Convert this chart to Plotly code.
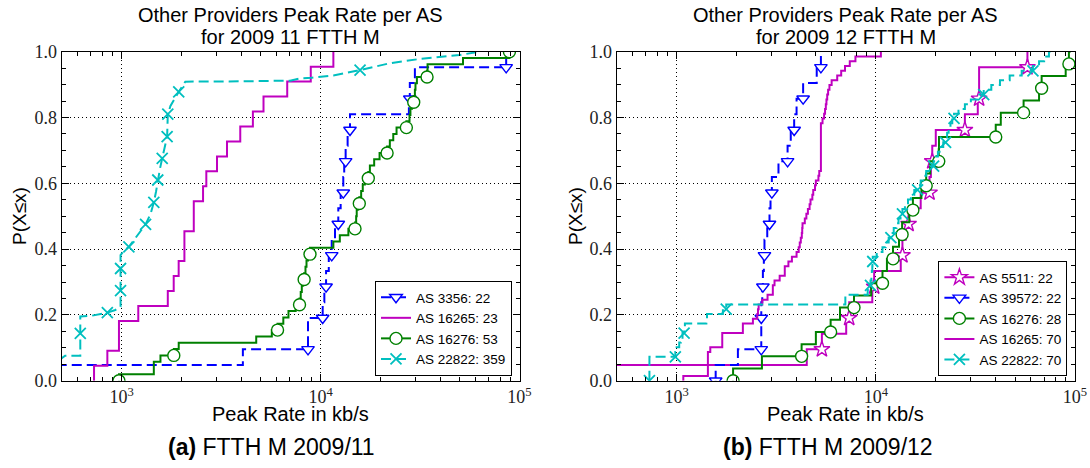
import numpy as np
import plotly.graph_objects as go

# ---------------- axis labels / ticks ----------------
x_ticks = [1e3, 1e4, 1e5]
x_tick_labels = ["10<sup>3</sup>", "10<sup>4</sup>", "10<sup>5</sup>"]
y_ticks = [0.0, 0.2, 0.4, 0.6, 0.8, 1.0]
y_tick_labels = ["0.0", "0.2", "0.4", "0.6", "0.8", "1.0"]
x_minor = [500, 600, 700, 800, 900, 2000, 3000, 4000, 5000, 6000, 7000, 8000, 9000,
           20000, 30000, 40000, 50000, 60000, 70000, 80000, 90000]

panel_titles = ["Other Providers Peak Rate per AS", "for 2009 11 FTTH M",
                "Other Providers Peak Rate per AS", "for 2009 12 FTTH M"]
captions = ["<b>(a)</b> FTTH M 2009/11", "<b>(b)</b> FTTH M 2009/12"]
x_title = "Peak Rate in kb/s"
y_title = "P(X≤x)"

# ---------------- panel (a): sorted peak rates per AS (kb/s) ----------------
a_as3356 = [400, 4070, 8650, 8650, 10250, 10450, 10660, 11000, 11380, 11820, 12280,
            12620, 13010, 13150, 13370, 13680, 14060, 27800, 28100, 29800, 85700, 85700]
a_as16265 = [727, 848, 970, 970, 1213, 1707, 1828, 1936, 2069, 2069, 2306, 2306,
             2567, 2666, 3018, 3388, 3949, 4570, 5168, 6800, 8930, 11600, 11600]
a_as16276 = [970, 1452, 1452, 1568, 1830, 1937, 4750, 5690, 6080, 6500, 6900, 7500,
             7840, 7950, 8050, 8150, 8270, 8400, 8500, 8650, 8850, 11600, 12500, 13800,
             14900, 15100, 15200, 15400, 15660, 16000, 16300, 16700, 17380, 17700, 18600,
             19800, 21600, 22300, 23200, 24100, 27000, 28000, 28300, 28800, 29400, 29800,
             30000, 30500, 34300, 34500, 52000, 89000, 89000]
# AS 22822 has 359 samples: its CDF is given as curve vertices
a_as22822_x = [480, 520, 620, 620, 700, 848, 930, 988, 988, 1020, 1088, 1200, 1320,
               1400, 1452, 1490, 1520, 1560, 1600, 1650, 1694, 1707, 1760, 1937, 2090,
               4000, 7030, 7890, 9030, 11600, 15800, 22300, 31500, 50000, 63000]
a_as22822_p = [0.060, 0.076, 0.076, 0.195, 0.197, 0.207, 0.215, 0.225, 0.382, 0.392,
               0.407, 0.440, 0.475, 0.508, 0.542, 0.575, 0.610, 0.645, 0.676, 0.710,
               0.742, 0.810, 0.835, 0.878, 0.909, 0.910, 0.912, 0.919, 0.921, 0.928,
               0.944, 0.965, 0.978, 0.990, 1.000]
a_as22822_mark_x = [620, 848, 988, 988, 1088, 1320, 1452, 1520, 1600, 1694, 1707, 1937, 15800]
a_as22822_mark_p = [0.144, 0.207, 0.274, 0.341, 0.407, 0.475, 0.542, 0.610, 0.676,
                    0.742, 0.810, 0.878, 0.944]

# ---------------- panel (b) ----------------
b_as5511 = [400, 4500, 5360, 7100, 7350, 9600, 9810, 13340, 13600, 14140, 14600, 16800,
            18600, 18900, 19200, 20000, 28000, 32500, 33000, 33000, 57700, 57700]
b_as39572 = [1570, 2030, 2660, 2660, 2660, 2690, 2710, 2740, 2760, 2850, 2925, 2960,
             3006, 3245, 3605, 3740, 3890, 4000, 4315, 5050, 5300, 5300]
b_as16276 = [1920, 2680, 4240, 5000, 5930, 6610, 7770, 9480, 10800, 11370, 12200, 13070,
             13550, 14720, 15350, 16940, 17900, 18740, 20700, 20750, 40000, 42400, 55200,
             66000, 68000, 89800, 93200, 95000]
b_as16265 = [1080, 1435, 1435, 1435, 1435, 1435, 1475, 1694, 1694, 1694, 2150, 2150,
             2415, 2540, 2560, 2580, 2690, 2860, 3040, 3040, 3100, 3290, 3490, 3490,
             3640, 3790, 4000, 4100, 4150, 4200, 4250, 4270, 4285, 4400, 4480, 4560,
             4650, 4700, 4800, 4850, 4950, 5000, 5150, 5200, 5300, 5300, 5300, 5300,
             5300, 5300, 5300, 5300, 5300, 5300, 5400, 5500, 5560, 5610, 5650, 5700,
             5760, 5850, 6000, 6400, 6700, 7000, 7400, 7900, 10600, 10600]
b_as22822 = [730, 730, 730, 730, 730, 985, 1000, 1030, 1050, 1070, 1090, 1100, 1410,
             1420, 1707, 1774, 7030, 7030, 9100, 9300, 9400, 9500, 9550, 9600, 9620,
             9650, 10100, 10800, 11200, 11600, 11900, 12300, 12700, 13000, 13300, 13600,
             14000, 14500, 15000, 15600, 16200, 16800, 17300, 17900, 18700, 19500, 20000,
             20500, 21200, 21800, 22400, 22800, 23200, 23700, 24200, 24700, 26000, 28000,
             30000, 32500, 34800, 38000, 42000, 47000, 54000, 61500, 66000, 70000, 74000,
             78000]

# ---------------- styles ----------------
MAG, BLU, GRN, CYN = "#BF00BF", "#0000FF", "#008000", "#00BFBF"
DASH = "10px,5px"

panels = [
    dict(x="x", y="y", legend="legend", series=[
        dict(name="AS 3356: 22", vals=a_as3356, color=BLU, dash=DASH, sym="triangle-down", every=2),
        dict(name="AS 16265: 23", vals=a_as16265, color=MAG, dash="solid", sym=None, every=0),
        dict(name="AS 16276: 53", vals=a_as16276, color=GRN, dash="solid", sym="circle", every=4),
        dict(name="AS 22822: 359", curve=(a_as22822_x, a_as22822_p),
             marks=(a_as22822_mark_x, a_as22822_mark_p), color=CYN, dash=DASH, sym="x-thin"),
    ]),
    dict(x="x2", y="y2", legend="legend2", series=[
        dict(name="AS 5511: 22", vals=b_as5511, color=MAG, dash="solid", sym="star", every=2),
        dict(name="AS 39572: 22", vals=b_as39572, color=BLU, dash=DASH, sym="triangle-down", every=2),
        dict(name="AS 16276: 28", vals=b_as16276, color=GRN, dash="solid", sym="circle", every=2),
        dict(name="AS 16265: 70", vals=b_as16265, color=MAG, dash="solid", sym=None, every=0),
        dict(name="AS 22822: 70", vals=b_as22822, color=CYN, dash=DASH, sym="x-thin", every=5),
    ]),
]


def marker_style(sym, color):
    if sym is None:
        return None
    if sym == "x-thin":
        return dict(symbol="x-thin", size=11, color=color, line=dict(color=color, width=1.8))
    size = {"circle": 12, "triangle-down": 11, "star": 12}[sym]
    return dict(symbol=sym, size=size, color="white", line=dict(color=color, width=1.4))


fig = go.Figure()
for p in panels:
    for s in p["series"]:
        line = dict(color=s["color"], width=2, dash=s["dash"])
        if "vals" in s:
            xs = np.array(s["vals"], dtype=float)
            ps = np.arange(len(xs)) / (len(xs) - 1)
            shape = "vh"
            if s["every"]:
                mx, mp = xs[::s["every"]], ps[::s["every"]]
            else:
                mx, mp = None, None
        else:
            xs, ps = s["curve"]
            shape = "linear"
            mx, mp = s["marks"]
        fig.add_trace(go.Scatter(x=xs, y=ps, mode="lines", line=dict(line, shape=shape),
                                 xaxis=p["x"], yaxis=p["y"], showlegend=False,
                                 hoverinfo="skip"))
        ms = marker_style(s["sym"], s["color"])
        if ms is not None:
            fig.add_trace(go.Scatter(x=mx, y=mp, mode="markers", marker=ms,
                                     xaxis=p["x"], yaxis=p["y"], showlegend=False,
                                     hoverinfo="skip"))
        fig.add_trace(go.Scatter(x=[None], y=[None],
                                 mode="lines+markers" if ms else "lines",
                                 line=line, marker=ms, name=s["name"],
                                 legend=p["legend"], xaxis=p["x"], yaxis=p["y"]))

W, H = 1090, 468
xdom = [[61.7 / W, 519.5 / W], [616.7 / W, 1075.0 / W]]
ydom = [(H - 380.7) / H, (H - 51.7) / H]

tickfont = dict(family="Liberation Serif", size=18, color="#222")
common = dict(showline=True, linecolor="black", linewidth=1, mirror="allticks",
              ticks="inside", ticklen=7, tickwidth=1, tickcolor="black",
              showgrid=True, gridcolor="black", gridwidth=1, griddash="1px,3px",
              zeroline=False, tickfont=tickfont, automargin=False)

for i, (xa, ya) in enumerate([("xaxis", "yaxis"), ("xaxis2", "yaxis2")]):
    fig.update_layout(**{
        xa: dict(common, type="log", range=[np.log10(500), 5], domain=xdom[i],
                 tickvals=x_ticks, ticktext=x_tick_labels,
                 anchor="y" if i == 0 else "y2",
                 minor=dict(ticks="inside", ticklen=4, tickcolor="black",
                            tickvals=x_minor, showgrid=False)),
        ya: dict(common, range=[0, 1], domain=ydom, tickvals=y_ticks,
                 ticktext=y_tick_labels, anchor="x" if i == 0 else "x2",
                 minor=dict(ticks="inside", ticklen=4, tickcolor="black",
                            dtick=0.05, showgrid=False)),
    })

legend_common = dict(xanchor="right", yanchor="bottom", bgcolor="white",
                     bordercolor="black", borderwidth=1, tracegroupgap=0,
                     font=dict(family="Liberation Sans", size=13.5, color="black"))
fig.update_layout(
    width=W, height=H, margin=dict(l=0, r=0, t=0, b=0, pad=0, autoexpand=False),
    paper_bgcolor="white", plot_bgcolor="white",
    legend=dict(legend_common, x=512 / W, y=(H - 376) / H),
    legend2=dict(legend_common, x=1067.4 / W, y=(H - 376) / H),
)

sans = "Liberation Sans"
ann = []
centers = [(xdom[0][0] + xdom[0][1]) / 2, (xdom[1][0] + xdom[1][1]) / 2]
for i in range(2):
    cx = centers[i]
    ann.append(dict(text=panel_titles[2 * i], x=cx, y=1 - 15 / H))
    ann.append(dict(text=panel_titles[2 * i + 1], x=cx, y=1 - 37 / H))
    ann.append(dict(text=x_title, x=cx, y=1 - 414 / H))
for a in ann:
    a.update(xref="paper", yref="paper", showarrow=False, xanchor="center",
             yanchor="middle", font=dict(family=sans, size=20, color="black"))
for cx, txt in zip([271 / W, 828 / W], captions):
    ann.append(dict(text=txt, x=cx, y=1 - 447 / H, xref="paper", yref="paper",
                    showarrow=False, xanchor="center", yanchor="middle",
                    font=dict(family=sans, size=23, color="black")))
for lx in [19 / W, 575 / W]:
    ann.append(dict(text=y_title, x=lx, y=(H - 216) / H, xref="paper", yref="paper",
                    showarrow=False, xanchor="center", yanchor="middle", textangle=-90,
                    font=dict(family=sans, size=19, color="black")))
fig.update_layout(annotations=ann)

fig.write_html("out.html", config={"displayModeBar": False},
               post_script="document.body.style.margin='0px';"
                           "document.body.style.overflow='hidden';")
